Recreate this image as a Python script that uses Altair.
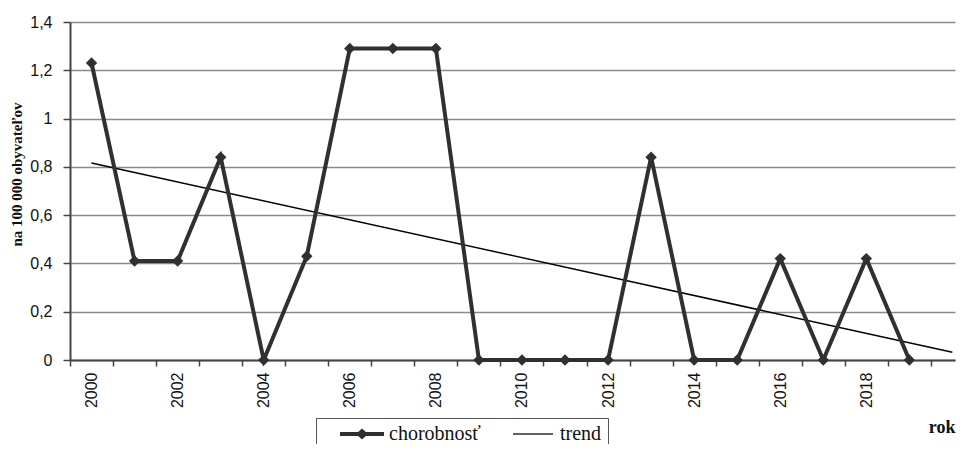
import altair as alt
import pandas as pd

# ---- data ----
years = list(range(2000, 2020))
chorobnost = [1.23, 0.41, 0.41, 0.84, 0.0, 0.43, 1.29, 1.29, 1.29, 0.0,
              0.0, 0.0, 0.0, 0.84, 0.0, 0.0, 0.42, 0.0, 0.42, 0.0]
series_names = ["chorobnosť", "trend"]
y_ticks = [0, 0.2, 0.4, 0.6, 0.8, 1.0, 1.2, 1.4]
x_boundaries = [y - 0.5 for y in range(2000, 2021)]
x_label_years = list(range(2000, 2019, 2))
y_title = "na 100 000 obyvateľov"
x_title = "rok"

df = pd.DataFrame({"rok": years, "hodnota": chorobnost})
legend_df = pd.DataFrame({"seria": series_names})

x_values = sorted(x_boundaries + x_label_years)
label_list = ",".join(str(v) for v in x_label_years)

x_enc = alt.X(
    "rok:Q",
    scale=alt.Scale(domain=[1999.5, 2020.06], nice=False, zero=False),
    axis=alt.Axis(
        values=x_values,
        format=".1f",
        labelExpr=f"indexof([{label_list}], datum.value) >= 0 ? toString(datum.value) : ''",
        labelAngle=270,
        labelAlign="right",
        labelBaseline="middle",
        labelPadding=6,
        labelFont="Liberation Sans",
        labelFontSize=16,
        labelColor="#111",
        labelOverlap=False,
        labelFlush=False,
        labelBound=False,
        tickSize=6,
        tickColor="#444",
        tickWidth=1.5,
        tickOpacity={"condition": {"test": "datum.value % 1 != 0", "value": 1}, "value": 0},
        domainColor="#444",
        domainWidth=2,
        grid=False,
        title=x_title,
        titleFont="Liberation Serif",
        titleFontWeight="bold",
        titleFontSize=18,
        titleColor="#111",
        titleX=885,
        titleY=72,
        titleAlign="right",
        titleBaseline="alphabetic",
    ),
)

y_enc = alt.Y(
    "hodnota:Q",
    scale=alt.Scale(domain=[0, 1.4], nice=False),
    axis=alt.Axis(
        values=y_ticks,
        format=".1~f",
        labelExpr="replace(datum.label, '.', ',')",
        labelFont="Liberation Sans",
        labelFontSize=16,
        labelColor="#111",
        labelPadding=11,
        tickSize=7,
        tickColor="#444",
        tickWidth=1.5,
        domainColor="#444",
        domainWidth=2,
        grid=True,
        gridColor="#8a8a8a",
        gridWidth=1.5,
        title=y_title,
        titleFont="Liberation Serif",
        titleFontWeight="bold",
        titleFontSize=15,
        titleColor="#111",
        titleAngle=270,
        titleX=-49,
        titleY=152,
        titleAlign="center",
        titleBaseline="alphabetic",
    ),
)

base = alt.Chart(df)

data_line = base.mark_line(color="#303030", strokeWidth=4).encode(x=x_enc, y=y_enc)
data_points = base.mark_point(shape="diamond", filled=True, size=130, color="#303030", opacity=1).encode(
    x=x_enc, y=y_enc
)
trend_line = base.transform_regression(
    "rok", "hodnota", extent=[2000, 2020]
).mark_line(color="#000", strokeWidth=1.5).encode(x=x_enc, y=y_enc)

path_data = "M-2.2,-0.2H2.2V0.2H-2.2Z M0,-0.55L0.6,0L0,0.55L-0.6,0Z"
path_trend = "M-2.0,-0.075H2.0V0.075H-2.0Z"

legend_layer = alt.Chart(legend_df).transform_filter("false").mark_point(
    filled=True, color="#2e2e2e"
).encode(
    shape=alt.Shape(
        "seria:N",
        scale=alt.Scale(domain=series_names, range=[path_data, path_trend]),
        legend=alt.Legend(
            orient="none",
            legendX=246,
            legendY=396,
            direction="horizontal",
            title="\u00a0",
            titleOrient="left",
            titlePadding=18,
            titleFontSize=20,
            padding=6,
            strokeColor="#555",
            symbolSize=400,
            symbolOffset=12,
            labelOffset=17,
            symbolOpacity=1,
            symbolFillColor="#2e2e2e",
            symbolStrokeWidth=0,
            columnPadding=30,
            labelFont="Liberation Serif",
            labelFontSize=20,
            labelColor="#111",
            labelLimit=300,
            labelExpr="datum.label == 'trend' ? 'trend\u00a0\u00a0\u00a0\u00a0\u00a0' : datum.label",
        ),
    )
)

chart = alt.layer(trend_line, data_line, data_points, legend_layer).properties(
    width=885,
    height=338,
    autosize=alt.AutoSizeParams(type="none"),
    padding={"left": 62, "top": 14, "right": 2, "bottom": 84},
    background="white",
).configure_view(stroke=None).configure_axisX(labelOverlap=False)

chart.save("out.html", embed_options={"renderer": "svg", "actions": False})
